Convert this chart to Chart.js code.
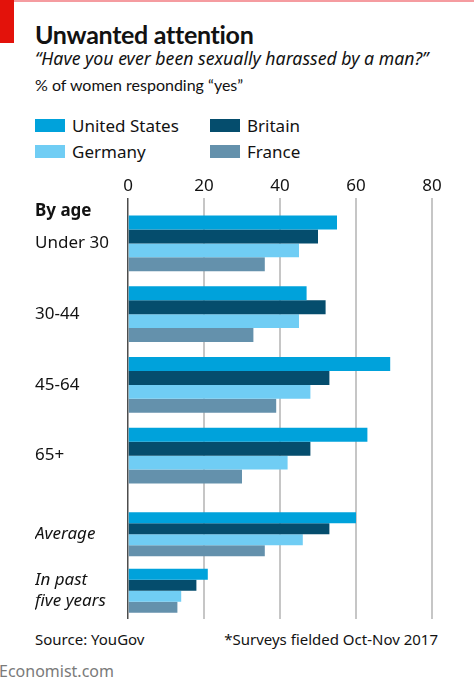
<!DOCTYPE html>
<html>
<head>
<meta charset="utf-8">
<title>Unwanted attention</title>
<script src="https://cdn.jsdelivr.net/npm/chart.js@4.4.1/dist/chart.umd.min.js"></script>
<style>
    body { margin: 0; background: #fff; font-family: "Noto Sans", sans-serif; color: #121212; }
    #page { position: relative; width: 474px; height: 688px; overflow: hidden; background: #fff; }
    .txt { position: absolute; white-space: nowrap; line-height: 1; }
    .topline { position: absolute; left: 0; top: 0; width: 474px; height: 2px; background: #f59ca0; }
    .redbox { position: absolute; left: 0; top: 0; width: 14px; height: 43px; background: #e3120b; }
    canvas { position: absolute; left: 0; }
    #legend { position: absolute; left: 35px; top: 119px; display: grid; grid-template-columns: 175px 175px; row-gap: 13px; }
    .legend-item { display: flex; align-items: center; font-size: 17px; line-height: 13px; height: 13px; }
    .legend-box { width: 30px; height: 13px; margin-right: 7px; }
</style>
</head>
<body>
<div id="page">
    <div class="topline"></div>
    <div class="redbox"></div>
    <div class="txt" style="left:35px; top:22px; font-family:Lato, sans-serif; font-size:25px; font-weight:bold; letter-spacing:-0.3px;">Unwanted attention</div>
    <div class="txt" style="left:35px; top:50px; font-size:17.7px; font-style:italic;">“Have you ever been sexually harassed by a man?”</div>
    <div class="txt" style="left:35px; top:77px; font-family:Lato, sans-serif; font-size:16px;">% of women responding “yes”</div>
    <div id="legend"></div>

    <canvas id="ageCanvas" width="474" height="321" style="top:170px;"></canvas>
    <canvas id="summaryCanvas" width="474" height="128" style="top:491px;"></canvas>
    <div class="txt" style="left:35px; top:201px; font-size:17px; font-weight:bold;">By age</div>

    <div class="txt" style="left:35px; top:632px; font-size:15px;">Source: YouGov</div>
    <div class="txt" style="right:36px; top:632px; font-size:15px;">*Surveys fielded Oct-Nov 2017</div>
    <div class="txt" style="left:-1px; top:663px; font-size:16px; color:#7a7a7a;">Economist.com</div>
</div>

<script>
// ===== DATA =====
const countries = ['United States', 'Britain', 'Germany', 'France'];
const colours = ['#00a2db', '#054d6d', '#70cdf4', '#6491ac'];

const ageGroups = ['Under 30', '30-44', '45-64', '65+'];
const usAge = [55, 47, 69, 63];
const britainAge = [50, 52, 53, 48];
const germanyAge = [45, 45, 48, 42];
const franceAge = [36, 33, 39, 30];

const summaryGroups = ['Average', ['In past', 'five years']];
const usSummary = [60, 21];
const britainSummary = [53, 18];
const germanySummary = [46, 14];
const franceSummary = [36, 13];

const xTicks = [0, 20, 40, 60, 80];

// ===== LEGEND =====
function renderLegend() {
    const legend = document.getElementById('legend');
    legend.innerHTML = countries.map((name, i) => `
        <div class="legend-item">
            <span class="legend-box" style="background:${colours[i]}"></span>${name}
        </div>
    `).join('');
}

// ===== CHARTS =====
function createBarChart(canvasId, labels, series, settings) {
    const canvas = document.getElementById(canvasId);
    return new Chart(canvas, {
        type: 'bar',
        data: {
            labels: labels,
            datasets: countries.map((name, i) => ({
                label: name,
                data: series[i],
                backgroundColor: colours[i],
                borderWidth: 0,
                categoryPercentage: settings.categoryPercentage,
                barPercentage: 1
            }))
        },
        options: {
            indexAxis: 'y',
            responsive: false,
            animation: false,
            devicePixelRatio: 1,
            layout: { padding: { left: 35, right: 42, top: 0, bottom: 0 } },
            plugins: {
                legend: { display: false },
                tooltip: { enabled: false }
            },
            scales: {
                x: {
                    position: 'top',
                    min: xTicks[0],
                    max: xTicks[xTicks.length - 1],
                    ticks: {
                        stepSize: xTicks[1] - xTicks[0],
                        display: settings.showTicks,
                        padding: 2,
                        color: '#121212',
                        font: { family: 'Noto Sans', size: 17 }
                    },
                    grid: {
                        color: ctx => (ctx.tick && ctx.tick.value === 0) ? '#4d4d4d' : '#c6c6c6',
                        lineWidth: ctx => (ctx.tick && ctx.tick.value === 0) ? 1.5 : 2,
                        tickLength: settings.tickLength
                    },
                    border: { display: false },
                    afterFit: scale => { scale.height = settings.axisHeight; }
                },
                y: {
                    ticks: {
                        crossAlign: 'far',
                        autoSkip: false,
                        color: '#121212',
                        font: { family: 'Noto Sans', size: 17, style: settings.italic ? 'italic' : 'normal', lineHeight: 1.2 }
                    },
                    grid: { display: false },
                    border: { display: false },
                    afterFit: scale => {
                        scale.width = 93;
                        // labels sit mid-band, so no extra room above/below the plot
                        scale.paddingTop = 0;
                        scale.paddingBottom = 0;
                    }
                }
            }
        }
    });
}

renderLegend();

createBarChart('ageCanvas', ageGroups, [usAge, britainAge, germanyAge, franceAge], {
    categoryPercentage: 0.79,
    showTicks: true,
    tickLength: 10,
    axisHeight: 38,
    italic: false
});

createBarChart('summaryCanvas', summaryGroups, [usSummary, britainSummary, germanySummary, franceSummary], {
    categoryPercentage: 0.78,
    showTicks: false,
    tickLength: 15,
    axisHeight: 15,
    italic: true
});
</script>
</body>
</html>
